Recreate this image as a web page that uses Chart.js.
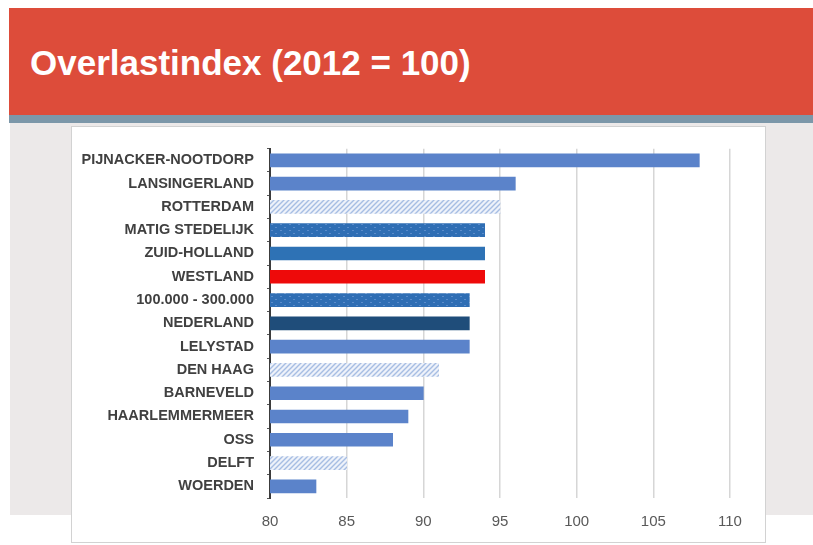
<!DOCTYPE html>
<html lang="nl">
<head>
<meta charset="UTF-8">
<title>Overlastindex (2012 = 100)</title>
<script src="https://cdn.jsdelivr.net/npm/chart.js"></script>
<style>
body {
    margin: 0;
    width: 813px;
    height: 545px;
    background: #fff;
    position: relative;
    overflow: hidden;
    font-family: "Liberation Sans", Arial, sans-serif;
}
.header {
    position: absolute;
    left: 9px;
    top: 8px;
    right: 0;
    height: 107px;
    background: #dd4c3a;
}
.header h1 {
    margin: 0;
    position: absolute;
    left: 21px;
    top: 35px;
    font-size: 35px;
    line-height: 40px;
    font-weight: bold;
    color: #fff;
}
.stripe {
    position: absolute;
    left: 9px;
    top: 115px;
    right: 0;
    height: 8px;
    background: #7c97a9;
}
.grey {
    position: absolute;
    left: 10px;
    top: 123px;
    right: 0;
    height: 392px;
    background: #ece9e9;
}
.card {
    position: absolute;
    left: 71px;
    top: 126px;
    width: 693px;
    height: 415px;
    background: #fff;
    border: 1px solid #d2d2d2;
}
.card canvas {
    position: absolute;
    left: 0;
    top: 0;
}
</style>
</head>
<body>

<div class="header"><h1>Overlastindex (2012 = 100)</h1></div>
<div class="stripe"></div>
<div class="grey"></div>
<div class="card">
    <canvas id="overlastChart" width="693" height="415"></canvas>
</div>

<script>
// gemeenten / regio's, van boven naar beneden
const categories = ['PIJNACKER-NOOTDORP', 'LANSINGERLAND', 'ROTTERDAM', 'MATIG STEDELIJK', 'ZUID-HOLLAND',
    'WESTLAND', '100.000 - 300.000', 'NEDERLAND', 'LELYSTAD', 'DEN HAAG', 'BARNEVELD',
    'HAARLEMMERMEER', 'OSS', 'DELFT', 'WOERDEN'];
const indexValues = [108, 96, 95, 94, 94, 94, 93, 93, 93, 91, 90, 89, 88, 85, 83];
const barKinds = ['gemeente', 'gemeente', 'g4', 'klasse', 'provincie', 'westland', 'klasse', 'land',
    'gemeente', 'g4', 'gemeente', 'gemeente', 'gemeente', 'g4', 'gemeente'];
const xTicks = [80, 85, 90, 95, 100, 105, 110];

function hatchPattern() {
    const c = document.createElement('canvas');
    c.width = 5; c.height = 5;
    const g = c.getContext('2d');
    g.fillStyle = '#eef2fa';
    g.fillRect(0, 0, 5, 5);
    g.strokeStyle = '#a6bde3';
    g.lineWidth = 1.4;
    g.beginPath();
    g.moveTo(-1, 6); g.lineTo(6, -1);
    g.moveTo(-1, 1); g.lineTo(1, -1);
    g.moveTo(4, 6); g.lineTo(6, 4);
    g.stroke();
    return g.createPattern(c, 'repeat');
}

function dotPattern() {
    const c = document.createElement('canvas');
    c.width = 9; c.height = 6;
    const g = c.getContext('2d');
    g.fillStyle = '#2f6eb4';
    g.fillRect(0, 0, 9, 6);
    g.fillStyle = '#5b8ccb';
    g.fillRect(1, 1, 2, 1);
    g.fillRect(5, 4, 2, 1);
    return g.createPattern(c, 'repeat');
}

const fills = {
    gemeente: '#5b83ca',
    g4: hatchPattern(),
    klasse: dotPattern(),
    provincie: '#2e72b5',
    westland: '#ee0a0a',
    land: '#1f4d7a'
};

const ctx = document.getElementById('overlastChart').getContext('2d');
new Chart(ctx, {
    type: 'bar',
    data: {
        labels: categories,
        datasets: [{
            data: indexValues,
            backgroundColor: barKinds.map(k => fills[k]),
            barThickness: 13,
            borderWidth: 0
        }]
    },
    options: {
        indexAxis: 'y',
        responsive: false,
        animation: false,
        layout: { padding: { top: 21, right: 35, bottom: 0, left: 0 } },
        plugins: {
            legend: { display: false },
            tooltip: { enabled: false }
        },
        scales: {
            x: {
                min: xTicks[0],
                max: xTicks[xTicks.length - 1],
                afterBuildTicks: s => { s.ticks = xTicks.map(v => ({ value: v })); },
                afterFit: s => { s.height = 44; },
                border: { display: false },
                grid: { color: '#d6d6d6', lineWidth: 1.5, drawTicks: false },
                ticks: {
                    padding: 15,
                    color: '#595959',
                    font: { family: 'Liberation Sans', size: 15 }
                }
            },
            y: {
                afterFit: s => { s.width = 198; },
                border: { display: true, color: '#3c3c3c', width: 2 },
                grid: { display: true, drawOnChartArea: false, offset: true, tickLength: 3, color: '#555' },
                ticks: {
                    padding: 13,
                    color: '#404040',
                    font: { family: 'Liberation Sans', size: 14.5, weight: 'bold' }
                }
            }
        }
    }
});
</script>
</body>
</html>
